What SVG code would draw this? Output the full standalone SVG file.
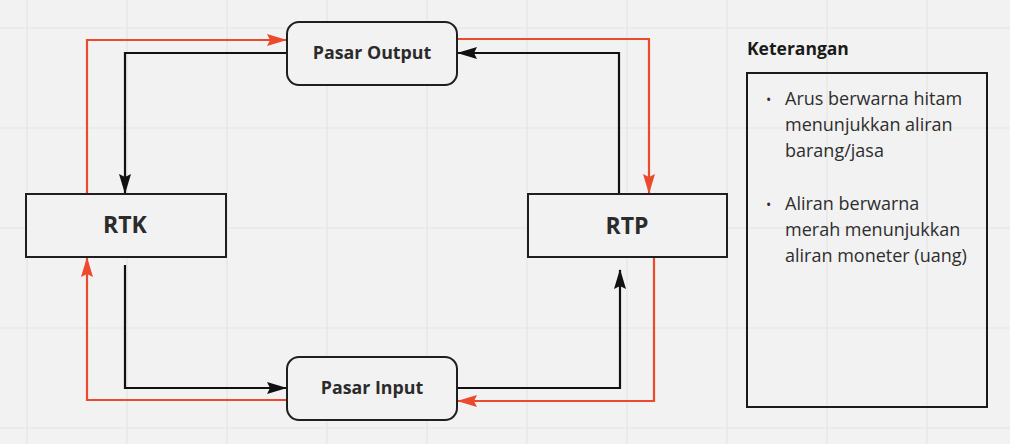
<svg xmlns="http://www.w3.org/2000/svg" width="1010" height="444" viewBox="0 0 1010 444">
<defs>
<style>
.grid{stroke:#e4e4e4;stroke-width:1.2}
.node{fill:#f2f2f2;stroke:#1f1f1f;stroke-width:2}
.lbl{font-family:"Open Sans","Liberation Sans",sans-serif;font-weight:700;fill:#2b2b2b;text-anchor:middle}
.blk{fill:none;stroke:#111;stroke-width:2.2}
.red{fill:none;stroke:#eb4a2c;stroke-width:2.2}
.leg{font-family:"Open Sans","Liberation Sans",sans-serif;font-size:18px;fill:#2e2e2e}
</style>
<marker id="ab" viewBox="0 0 20 12" refX="19" refY="6" markerWidth="20" markerHeight="12" markerUnits="userSpaceOnUse" orient="auto">
<path d="M0,0 L20,6 L0,12 L3,6 Z" fill="#111"/>
</marker>
<marker id="ar" viewBox="0 0 20 12" refX="19" refY="6" markerWidth="20" markerHeight="12" markerUnits="userSpaceOnUse" orient="auto">
<path d="M0,0 L20,6 L0,12 L3,6 Z" fill="#eb4a2c"/>
</marker>
</defs>
<rect width="1010" height="444" fill="#f2f2f2"/>
<g id="grid" class="grid">
<line x1="27" y1="0" x2="27" y2="444"/><line x1="127" y1="0" x2="127" y2="444"/><line x1="227" y1="0" x2="227" y2="444"/><line x1="327" y1="0" x2="327" y2="444"/><line x1="427" y1="0" x2="427" y2="444"/><line x1="527" y1="0" x2="527" y2="444"/><line x1="627" y1="0" x2="627" y2="444"/><line x1="727" y1="0" x2="727" y2="444"/><line x1="827" y1="0" x2="827" y2="444"/><line x1="927" y1="0" x2="927" y2="444"/>
<line x1="0" y1="28" x2="1010" y2="28"/><line x1="0" y1="128" x2="1010" y2="128"/><line x1="0" y1="228" x2="1010" y2="228"/><line x1="0" y1="328" x2="1010" y2="328"/><line x1="0" y1="428" x2="1010" y2="428"/>
</g>
<g id="connectors">
<path class="red" d="M87,194 V40 H286" marker-end="url(#ar)"/>
<path class="blk" d="M287,53 H125 V193" marker-end="url(#ab)"/>
<path class="red" d="M457,39 H649 V193" marker-end="url(#ar)"/>
<path class="blk" d="M619,194 V53 H458" marker-end="url(#ab)"/>
<path class="blk" d="M125,265 V388 H286" marker-end="url(#ab)"/>
<path class="red" d="M287,400 H87 V258" marker-end="url(#ar)"/>
<path class="blk" d="M457,388 H620 V270" marker-end="url(#ab)"/>
<path class="red" d="M654,258 V401 H458" marker-end="url(#ar)"/>
</g>
<g id="pasar-output">
<rect class="node" x="287" y="22" width="170" height="63" rx="12"/>
<text class="lbl" x="372" y="59" font-size="17.8">Pasar Output</text>
</g>
<g id="rtk">
<rect class="node" x="26" y="194" width="200" height="63"/>
<text class="lbl" x="125" y="233" font-size="23">RTK</text>
</g>
<g id="rtp">
<rect class="node" x="528" y="194" width="199" height="63"/>
<text class="lbl" x="627" y="234" font-size="23">RTP</text>
</g>
<g id="pasar-input">
<rect class="node" x="287" y="357" width="170" height="63" rx="12"/>
<text class="lbl" x="372" y="394" font-size="17.8">Pasar Input</text>
</g>
<g id="keterangan">
<text x="747" y="55" font-family="Open Sans, Liberation Sans, sans-serif" font-weight="700" font-size="17.5" fill="#1a1a1a">Keterangan</text>
<rect x="747" y="73" width="240" height="334" fill="none" stroke="#1a1a1a" stroke-width="2"/>
<g class="leg">
<text x="766" y="105" font-size="14">•</text>
<text x="785" y="105">Arus berwarna hitam</text>
<text x="785" y="131">menunjukkan aliran</text>
<text x="785" y="157">barang/jasa</text>
<text x="766" y="210" font-size="14">•</text>
<text x="785" y="210">Aliran berwarna</text>
<text x="785" y="236">merah menunjukkan</text>
<text x="785" y="262">aliran moneter (uang)</text>
</g>
</g>
</svg>
